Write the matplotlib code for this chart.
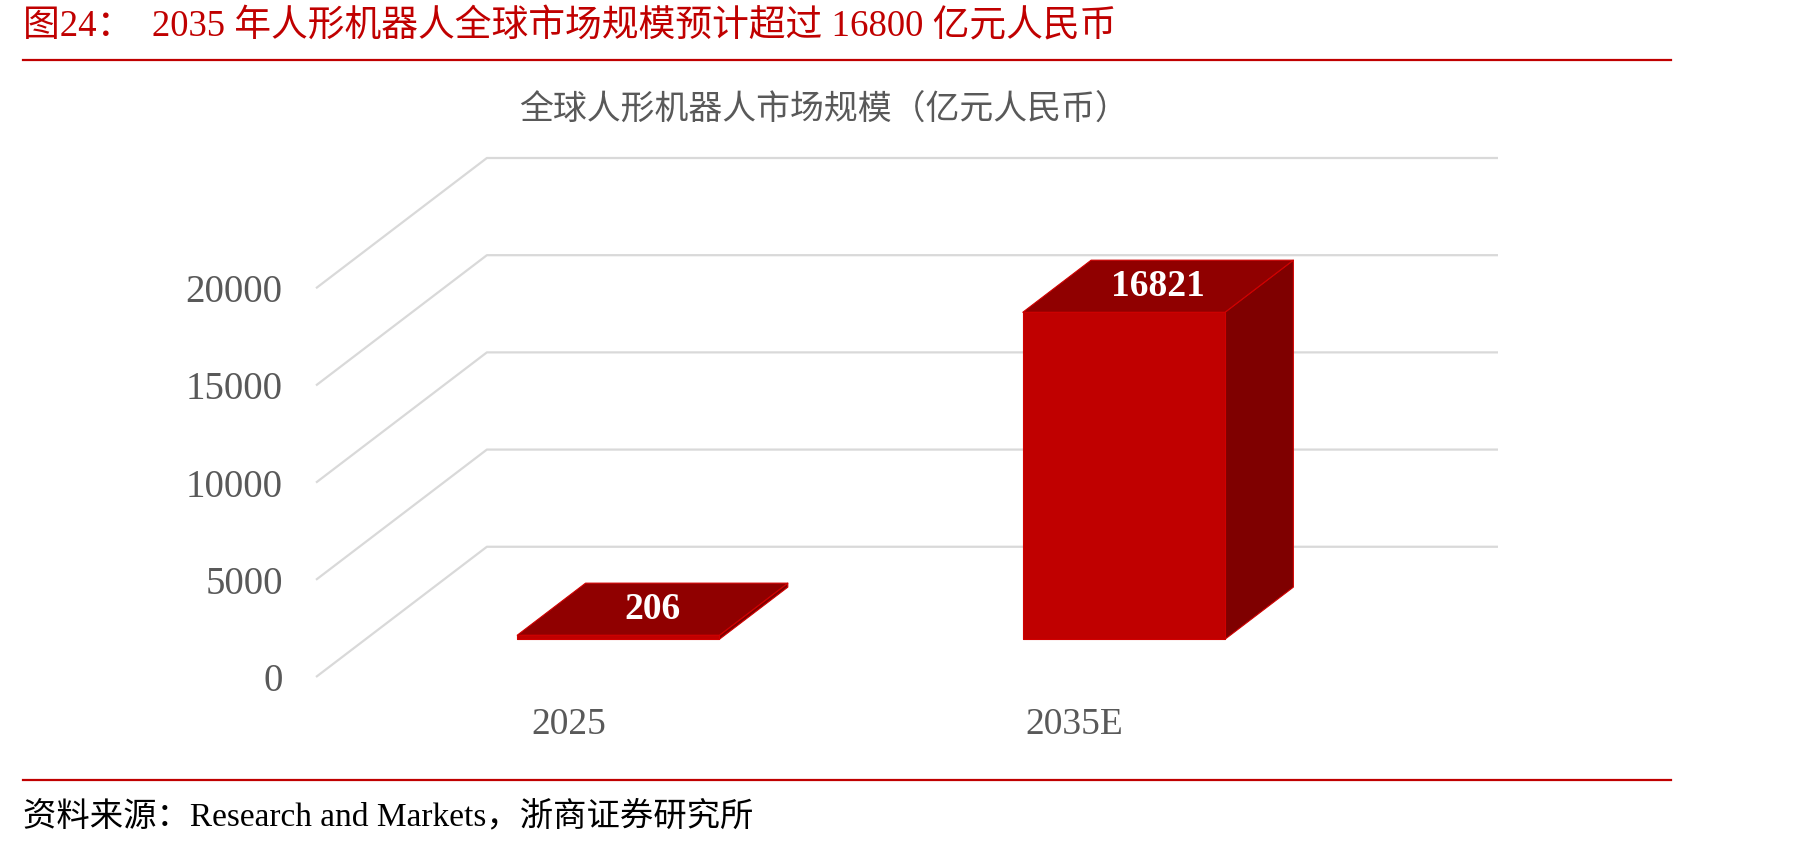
import matplotlib
matplotlib.use('Agg')
import matplotlib.pyplot as plt
from matplotlib.patches import Polygon
from matplotlib.lines import Line2D

# ---------------- data ----------------
categories = ['2025', '2035E']
values = [206, 16821]
value_labels = ['206', '16821']
y_ticks = [0, 5000, 10000, 15000, 20000]
y_tick_labels = ['0', '5000', '10000', '15000', '20000']

title = '图24：  2035 年人形机器人全球市场规模预计超过 16800 亿元人民币'
chart_title = '全球人形机器人市场规模（亿元人民币）'
source = '资料来源：Research and Markets，浙商证券研究所'

# ---------------- style ----------------
RED = '#C00000'
FRONT = '#C00000'
TOP = '#900000'
SIDE = '#7F0000'
GRID = '#D9D9D9'
GRAY = '#595959'
SERIF = ['Liberation Serif', 'Noto Sans CJK SC']
CJK = ['Noto Sans CJK SC', 'Liberation Serif']

W, H = 1798, 847
fig = plt.figure(figsize=(W / 100, H / 100), dpi=100)

# plot box in pixels (front-left at value 0 -> back-right top)
px_left, px_right = 316, 1498
px_bottom, px_top = 677, 158
depth_x = 0.338      # oblique depth offset, category units
depth_y = 6700       # oblique depth offset, value units
xmin = -0.5
xmax = len(categories) - 0.5 + depth_x
ymin = 0
ymax = max(y_ticks) + depth_y

ax = fig.add_axes([px_left / W, 1 - px_bottom / H,
                   (px_right - px_left) / W, (px_bottom - px_top) / H])
ax.set_xlim(xmin, xmax)
ax.set_ylim(ymin, ymax)
ax.patch.set_visible(False)
for s in ax.spines.values():
    s.set_visible(False)

# gridlines: diagonal on the left side wall + horizontal on back wall
for v in y_ticks:
    ax.plot([xmin, xmin + depth_x, xmax], [v, v + depth_y, v + depth_y],
            color=GRID, lw=1.6, clip_on=False, zorder=1,
            solid_capstyle='butt')

# ticks
ax.set_yticks(y_ticks)
ax.set_yticklabels(y_tick_labels, family=SERIF)
ax.tick_params(axis='y', length=0, pad=24, labelsize=28, labelcolor=GRAY)
ax.set_xticks(range(len(categories)))
ax.set_xticklabels(categories, family=SERIF)
ax.tick_params(axis='x', length=0, pad=22, labelsize=27, labelcolor=GRAY)

# 3D bars
f0, f1 = 0.29, 0.69
bw = 0.4


def P(x, y, f):
    return (x + f * depth_x, y + f * depth_y)


for i, (v, lab) in enumerate(zip(values, value_labels)):
    xl, xr = i - bw / 2, i + bw / 2
    front = [P(xl, 0, f0), P(xr, 0, f0), P(xr, v, f0), P(xl, v, f0)]
    side = [P(xr, 0, f0), P(xr, 0, f1), P(xr, v, f1), P(xr, v, f0)]
    top = [P(xl, v, f0), P(xr, v, f0), P(xr, v, f1), P(xl, v, f1)]
    for poly, col in ((side, SIDE), (front, FRONT), (top, TOP)):
        ax.add_patch(Polygon(poly, closed=True, facecolor=col,
                             edgecolor='#D00000', lw=0.8, zorder=3,
                             joinstyle='round'))
    cx, cy = P(i, v, (f0 + f1) / 2)
    ax.text(cx, cy, lab, ha='center', va='center', color='white',
            fontsize=27, fontweight='bold', family=SERIF, zorder=5)

# chart title
fig.text(824 / W, 1 - 109 / H, chart_title, ha='center', va='center',
         fontsize=24.4, color=GRAY, family=CJK)

# report header / footer
fig.text(23 / W, 1 - 27 / H, title, ha='left', va='center',
         fontsize=26.5, color=RED, family=SERIF)
fig.add_artist(Line2D([23 / W, 1671 / W], [1 - 60 / H] * 2,
                      color=RED, lw=1.6))
fig.add_artist(Line2D([23 / W, 1671 / W], [1 - 780 / H] * 2,
                      color=RED, lw=1.6))
fig.text(23 / W, 1 - 817 / H, source, ha='left', va='center',
         fontsize=24, color='black', family=SERIF)

fig.savefig('out.png', dpi=100, facecolor='white')
